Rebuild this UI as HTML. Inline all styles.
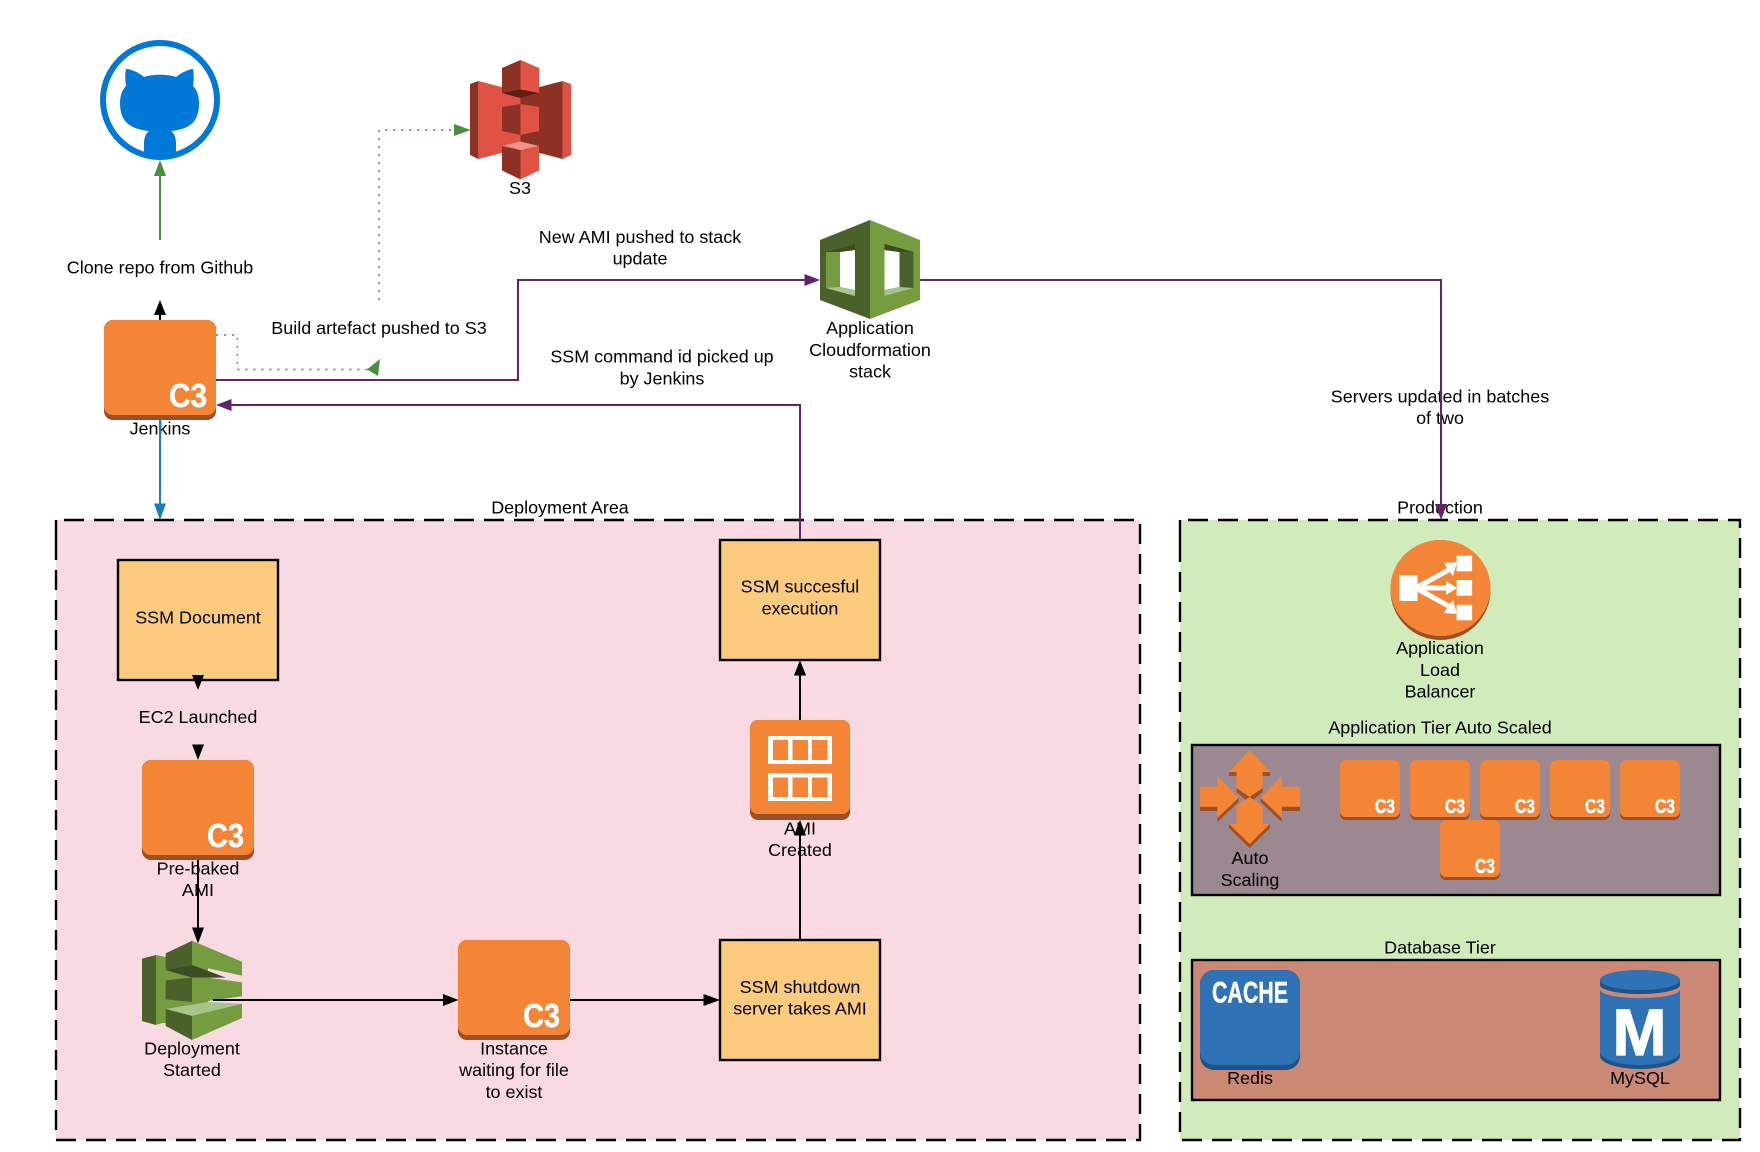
<!DOCTYPE html>
<html>
<head>
<meta charset="utf-8">
<style>
html,body{margin:0;padding:0;background:#fff;}
svg{display:block;}
text{font-family:"Liberation Sans",sans-serif;font-size:17.95px;fill:#000;text-anchor:middle;dominant-baseline:central;}
.c3{font-weight:bold;fill:#fff;text-anchor:start;dominant-baseline:alphabetic;stroke:#fff;stroke-width:.5px;}
</style>
</head>
<body>
<svg width="1760" height="1152" viewBox="0 0 1760 1152" xmlns="http://www.w3.org/2000/svg">
<defs>
<g id="big">
<rect x="0" y="0" width="112" height="100" rx="9" fill="#9d5025"/>
<rect x="0" y="0" width="112" height="95" rx="9" fill="#f58536"/>
</g>
<g id="small">
<rect x="0" y="0" width="60" height="60" rx="6" fill="#9d5025"/>
<rect x="0" y="0" width="60" height="57" rx="6" fill="#f58536"/>
</g>
</defs>
<rect width="1760" height="1152" fill="#fff"/>

<!-- containers -->
<rect x="56" y="520" width="1084" height="620" fill="#f9dae3"/>
<path d="M56,542V520H1140V1140H56V520" fill="none" stroke="#000" stroke-width="2.4" stroke-dasharray="20 10"/>
<rect x="1180" y="520" width="560" height="620" fill="#d1ecba"/>
<path d="M1180,542V520H1740V1140H1180V520" fill="none" stroke="#000" stroke-width="2.4" stroke-dasharray="20 10"/>
<rect x="1192" y="745" width="528" height="150" fill="#9b8890" stroke="#000" stroke-width="2.4"/>
<rect x="1192" y="960" width="528" height="140" fill="#cb8875" stroke="#000" stroke-width="2.4"/>

<!-- yellow boxes -->
<rect x="118" y="560" width="160" height="120" fill="#fccb7e" stroke="#000" stroke-width="2.4"/>
<rect x="720" y="540" width="160" height="120" fill="#fccb7e" stroke="#000" stroke-width="2.4"/>
<rect x="720" y="940" width="160" height="120" fill="#fccb7e" stroke="#000" stroke-width="2.4"/>

<!-- GitHub -->
<circle cx="160" cy="100" r="57" fill="#fff" stroke="#0078d7" stroke-width="6"/>
<path d="M126,69C130,69 138,72 144,77C152,74 168,74 176,77C182,72 190,69 193,69C194,74 194,80 193,86C197,90 199,96 199,103C199,122 190,129 171,131C175,134 176,139 176,144L176,152Q160,156 144,152L144,144C144,139 145,134 149,131C130,129 120,122 120,103C120,96 122,90 126,86C125,80 125,74 126,69Z" fill="#0078d7"/>

<!-- S3 -->
<g>
<polygon points="470,84 478.4,81 478.4,159 470,155" fill="#8c3123"/>
<polygon points="478.4,81 520.5,92 520.5,148 478.4,159" fill="#e05243"/>
<polygon points="562.6,81 571,84 571,155 562.6,159" fill="#e05243"/>
<polygon points="520.5,92 562.6,81 562.6,159 520.5,148" fill="#8c3123"/>
<polygon points="520.5,60 502,68 502,93 520.5,98" fill="#8c3123"/>
<polygon points="520.5,60 539,68 539,93 520.5,98" fill="#e05243"/>
<polygon points="502,93 520.5,89.5 539,93 520.5,98" fill="#5e1f18"/>
<polygon points="520.5,104 502,107 502,131 520.5,135" fill="#8c3123"/>
<polygon points="520.5,104 539,107 539,131 520.5,135" fill="#e05243"/>
<polygon points="502,146 520.5,141.5 539,146 520.5,150" fill="#f2928a"/>
<polygon points="502,146 520.5,150 520.5,179.4 502,170.5" fill="#8c3123"/>
<polygon points="539,146 520.5,150 520.5,179.4 539,170.5" fill="#e05243"/>
</g>

<!-- CloudFormation -->
<g>
<polygon points="870,220 820,240 820,300 870,319" fill="#4b612c"/>
<polygon points="870,220 920,240 920,300 870,319" fill="#759c3e"/>
<polygon points="826,252 855,244 855,296 826,288" fill="#759c3e"/>
<polygon points="840,252 855,250 855,290 840,287" fill="#fff"/>
<polygon points="826,252 855,244 855,250 840,252" fill="#3c4d23"/>
<polygon points="826,288 840,287 855,290 855,296" fill="#a7c48a"/>
<polygon points="884.5,244 913.5,252 913.5,288 884.5,296" fill="#4b612c"/>
<polygon points="884.5,250 899.5,252 899.5,287 884.5,290" fill="#fff"/>
<polygon points="884.5,244 913.5,252 899.5,252 884.5,250" fill="#3c4d23"/>
<polygon points="884.5,296 913.5,288 899.5,287 884.5,290" fill="#a7c48a"/>
</g>

<!-- C3 big boxes -->
<use href="#big" x="104" y="320"/>
<text class="c3" x="169" y="407" style="font-size:33px" textLength="38" lengthAdjust="spacingAndGlyphs">C3</text>
<use href="#big" x="142" y="760"/>
<text class="c3" x="207" y="847" style="font-size:33px" textLength="37" lengthAdjust="spacingAndGlyphs">C3</text>
<use href="#big" x="458" y="940"/>
<text class="c3" x="523" y="1027" style="font-size:33px" textLength="37" lengthAdjust="spacingAndGlyphs">C3</text>

<!-- AMI -->
<rect x="750" y="720" width="100" height="100" rx="8" fill="#9d5025"/>
<rect x="750" y="720" width="100" height="94" rx="8" fill="#f58536"/>
<rect x="768" y="736" width="64" height="28" fill="#fff"/>
<rect x="768" y="773" width="64" height="28" fill="#fff"/>
<g fill="#f58536">
<rect x="773" y="740" width="15" height="20"/><rect x="792.5" y="740" width="15.5" height="20"/><rect x="812" y="740" width="15.5" height="20"/>
<rect x="773" y="777.5" width="15" height="19.5"/><rect x="792.5" y="777.5" width="15.5" height="19.5"/><rect x="812" y="777.5" width="15.5" height="19.5"/>
</g>

<!-- Deployment icon -->
<g>
<rect x="156" y="957" width="52" height="66" fill="#759c3e"/>
<polygon points="142,958.6 156,955 156,1025 142,1021" fill="#4b612c"/>
<polygon points="156,955 165.7,957 165.7,1022 156,1025" fill="#759c3e"/>
<polygon points="165.7,953.4 192,940.7 192,965 165.7,970" fill="#4b612c"/>
<polygon points="192,940.7 242,961.7 242,975.6 192,965" fill="#759c3e"/>
<polygon points="165.7,970 192,965 226,977.6 192,977.6" fill="#3c4d23"/>
<polygon points="165.7,980.4 192,977.6 192,1002 165.7,999.4" fill="#4b612c"/>
<polygon points="192,977.6 208,977.6 242,982.4 242,996.3 208,1001 192,1002" fill="#759c3e"/>
<polygon points="165.7,1009 208,1002 242,1003.6 192,1016" fill="#a7c48a"/>
<polygon points="165.7,1009 192,1016 192,1040 165.7,1026" fill="#4b612c"/>
<polygon points="192,1016 242,1003.6 242,1018 192,1040" fill="#759c3e"/>
</g>

<!-- ALB -->
<circle cx="1440.5" cy="590" r="50" fill="#9d5025"/>
<ellipse cx="1440.5" cy="588" rx="50" ry="48" fill="#f58536"/>
<g fill="#fff">
<rect x="1399" y="575" width="18.5" height="26"/>
<rect x="1456.6" y="555.7" width="15.5" height="15.6"/>
<rect x="1456.6" y="580" width="15.5" height="15.7"/>
<rect x="1456.6" y="604.7" width="15.5" height="15.6"/>
<polygon points="1457,562 1444,563 1447,568 1416,585 1416,591 1450,572 1453,576"/>
<polygon points="1457,588 1446,581 1446,585.5 1417,585.5 1417,590.5 1446,590.5 1446,595"/>
<polygon points="1457,614 1444,613 1447,608 1416,591 1416,585 1450,604 1453,600"/>
</g>

<!-- Auto Scaling -->
<g>
<polygon points="1229,772 1270,772 1270,776 1229,776" fill="#9d5025"/>
<polygon points="1249.6,750 1270,772 1262.6,772 1262.6,788 1249.6,797 1236.5,788 1236.5,772 1229,772" fill="#f58536"/>
<polygon points="1236.5,788 1249.6,797 1247,801 1236.5,792" fill="#9d5025"/>
<polygon points="1262.6,788 1249.6,797 1252,801 1262.6,792" fill="#9d5025"/>
<polygon points="1249.6,797 1262.6,806 1262.6,824 1270,824 1249.6,848 1229,824 1236.5,824 1236.5,806" fill="#f58536"/>
<polygon points="1229,824 1249.6,844 1270,824 1270,828 1249.6,848 1229,828" fill="#9d5025"/>
<rect x="1200" y="806" width="18" height="5" fill="#9d5025"/>
<polygon points="1200,786.7 1217.4,786.7 1217.4,776 1238.5,798 1217.4,818 1217.4,806.7 1200,806.7" fill="#f58536"/>
<polygon points="1217.4,818 1238.5,798 1238.5,802 1217.4,822" fill="#9d5025"/>
<rect x="1282" y="806" width="18" height="5" fill="#9d5025"/>
<polygon points="1300,786.7 1281.7,786.7 1281.7,776 1260.6,798 1281.7,818 1281.7,806.7 1300,806.7" fill="#f58536"/>
<polygon points="1281.7,818 1260.6,798 1260.6,802 1281.7,822" fill="#9d5025"/>
</g>

<!-- small C3 -->
<use href="#small" x="1340" y="760"/><text class="c3" x="1375" y="813" style="font-size:20px" textLength="20" lengthAdjust="spacingAndGlyphs">C3</text>
<use href="#small" x="1410" y="760"/><text class="c3" x="1445" y="813" style="font-size:20px" textLength="20" lengthAdjust="spacingAndGlyphs">C3</text>
<use href="#small" x="1480" y="760"/><text class="c3" x="1515" y="813" style="font-size:20px" textLength="20" lengthAdjust="spacingAndGlyphs">C3</text>
<use href="#small" x="1550" y="760"/><text class="c3" x="1585" y="813" style="font-size:20px" textLength="20" lengthAdjust="spacingAndGlyphs">C3</text>
<use href="#small" x="1620" y="760"/><text class="c3" x="1655" y="813" style="font-size:20px" textLength="20" lengthAdjust="spacingAndGlyphs">C3</text>
<use href="#small" x="1440" y="820"/><text class="c3" x="1475" y="873" style="font-size:20px" textLength="20" lengthAdjust="spacingAndGlyphs">C3</text>

<!-- Redis -->
<rect x="1200" y="970" width="100" height="100" rx="14" fill="#1f5285"/>
<rect x="1200" y="970" width="100" height="95" rx="14" fill="#2f72b6"/>
<text class="c3" x="1212" y="1002.5" style="font-size:30px" textLength="76" lengthAdjust="spacingAndGlyphs">CACHE</text>

<!-- MySQL -->
<path d="M1600,990V1056C1600,1063 1618,1069 1640,1069C1662,1069 1680,1063 1680,1056V990Z" fill="#1f5285"/>
<path d="M1600,990V1052C1600,1059 1618,1065 1640,1065C1662,1065 1680,1059 1680,1052V990Z" fill="#2f72b6"/>
<path d="M1600,982V989C1600,995 1618,998 1640,998C1662,998 1680,995 1680,989V982Z" fill="#cb8875"/>
<path d="M1600,980V985C1600,990 1618,994 1640,994C1662,994 1680,990 1680,985V980Z" fill="#1f5285"/>
<ellipse cx="1640" cy="980" rx="40" ry="10" fill="#2f72b6"/>
<text class="c3" x="1612.5" y="1055" style="font-size:66px;stroke-width:1.2px" textLength="54" lengthAdjust="spacingAndGlyphs">M</text>

<!-- labels -->
<text x="160" y="267.5">Clone repo from Github</text>
<text x="520" y="188">S3</text>
<text x="379" y="328">Build artefact pushed to S3</text>
<text x="160" y="428.5">Jenkins</text>
<text x="640" y="237">New AMI pushed to stack</text>
<text x="640" y="258.7">update</text>
<text x="662" y="356.7">SSM command id picked up</text>
<text x="662" y="378.3">by Jenkins</text>
<text x="870" y="328">Application</text>
<text x="870" y="350">Cloudformation</text>
<text x="870" y="371.7">stack</text>
<text x="1440" y="396.5">Servers updated in batches</text>
<text x="1440" y="418">of two</text>
<text x="560" y="507.5">Deployment Area</text>
<text x="1440" y="507.5">Production</text>
<text x="198" y="617.3">SSM Document</text>
<text x="198" y="717">EC2 Launched</text>
<text x="198" y="868.5">Pre-baked</text>
<text x="198" y="890">AMI</text>
<text x="192" y="1048.6">Deployment</text>
<text x="192" y="1070">Started</text>
<text x="514" y="1048.6">Instance</text>
<text x="514" y="1070.2">waiting for file</text>
<text x="514" y="1092">to exist</text>
<text x="800" y="586.7">SSM succesful</text>
<text x="800" y="608.6">execution</text>
<text x="800" y="828.4">AMI</text>
<text x="800" y="850">Created</text>
<text x="800" y="987">SSM shutdown</text>
<text x="800" y="1008.6">server takes AMI</text>
<text x="1440" y="648">Application</text>
<text x="1440" y="670">Load</text>
<text x="1440" y="691.7">Balancer</text>
<text x="1440" y="727.7">Application Tier Auto Scaled</text>
<text x="1250" y="858">Auto</text>
<text x="1250" y="880">Scaling</text>
<text x="1440" y="947.7">Database Tier</text>
<text x="1250" y="1078">Redis</text>
<text x="1640" y="1078">MySQL</text>

<!-- connectors -->
<g fill="none" stroke-width="2">
<path d="M160,240V172" stroke="#4a8f41"/>
<path d="M160,320V312" stroke="#000"/>
<path d="M160,420V505" stroke="#1b7db8"/>
<path d="M216,380H518V280H806" stroke="#622469"/>
<path d="M920,280H1441V506" stroke="#622469"/>
<path d="M800,540V405H230" stroke="#622469"/>
<path d="M198,860V930" stroke="#000"/>
<path d="M213,1000H445" stroke="#000"/>
<path d="M570,1000H705" stroke="#000"/>
<path d="M800,720V674" stroke="#000"/>
<path d="M800,940V834" stroke="#000"/>
<path d="M216,335H237.3V369.5H370" stroke="#5f9e57" stroke-width="1.8" stroke-dasharray="2 6"/>
<path d="M379,300V130H456" stroke="#5f9e57" stroke-width="1.8" stroke-dasharray="2 6"/>
</g>
<g>
<polygon points="160,160 154,176 166,176" fill="#4a8f41"/>
<polygon points="160,300 154,315 166,315" fill="#000"/>
<polygon points="160,520 154,503.5 166,503.5" fill="#1b7db8"/>
<polygon points="820,280 804.5,274 804.5,286" fill="#622469"/>
<polygon points="1441,520 1435,504 1447,504" fill="#622469"/>
<polygon points="216,405 231.5,399 231.5,411" fill="#622469"/>
<polygon points="198,690 192,675 204,675" fill="#000"/>
<polygon points="198,760 192,744.5 204,744.5" fill="#000"/>
<polygon points="198,943.5 192,927.5 204,927.5" fill="#000"/>
<polygon points="458.5,1000 443,994 443,1006" fill="#000"/>
<polygon points="720,1000 703.5,994 703.5,1006" fill="#000"/>
<polygon points="800,660 794,675.5 806,675.5" fill="#000"/>
<polygon points="800,820 794,835.5 806,835.5" fill="#000"/>
<polygon points="367,369.5 380,359 378,376" fill="#4a8f41"/>
<polygon points="470.7,130 454,124 454,136" fill="#4a8f41"/>
</g>
</svg>
</body>
</html>
